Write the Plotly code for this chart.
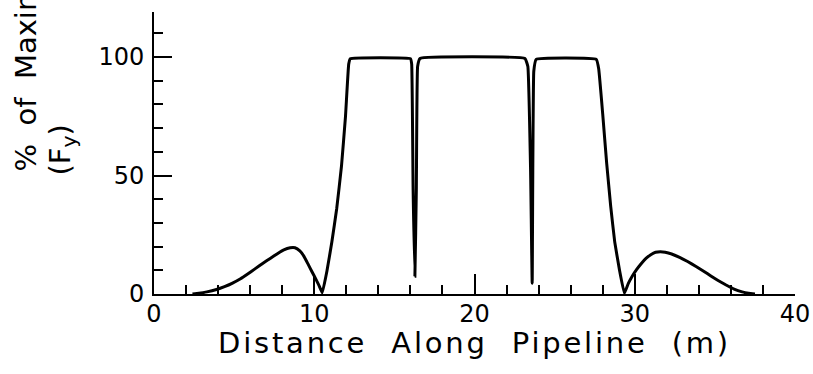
import plotly.graph_objects as go

# Stress profile along the pipeline, percent of maximum (F_y)
distance_m = [
    2.4, 2.8, 3.3, 3.9, 4.4, 4.9, 5.4, 5.8, 6.3, 6.8, 7.25, 7.7, 8.1, 8.5, 8.8, 9.1,
    9.35, 9.6, 9.85, 10.1, 10.3, 10.5,
    10.8, 11.1, 11.4, 11.7, 11.95, 12.15, 12.25,
    16.0, 16.08, 16.17, 16.28, 16.37, 16.45, 16.6,
    23.15, 23.33, 23.5, 23.6, 23.7, 23.85,
    27.6, 27.75, 28.0, 28.25, 28.5, 28.75, 29.05, 29.35,
    29.6, 29.85, 30.1, 30.4, 30.7, 31.0, 31.3, 31.6, 31.9, 32.3, 32.8, 33.3, 33.8,
    34.3, 34.75, 35.2, 35.7, 36.2, 36.7, 37.1, 37.5,
]
percent_fy = [
    0.0, 0.3, 0.9, 1.9, 3.1, 4.6, 6.4, 8.2, 10.6, 13.0, 15.0, 17.0, 18.6, 19.5, 19.5, 18.2,
    16.0, 12.8, 9.5, 6.3, 3.5, 0.5,
    10.0, 22.0, 36.0, 54.0, 75.0, 97.0, 99.3,
    99.3, 97.0, 44.0, 7.5, 44.0, 96.0, 99.4,
    99.4, 96.0, 52.0, 4.5, 94.0, 99.0,
    99.0, 95.0, 76.0, 55.0, 37.0, 22.0, 10.0, 0.3,
    4.5, 7.6, 10.2, 12.8, 15.0, 16.6, 17.6, 17.8, 17.6, 16.9, 15.5, 13.7, 11.7,
    9.6, 7.6, 5.7, 3.8, 2.1, 0.9, 0.3, 0.0,
]

x_ticks = [0, 10, 20, 30, 40]
y_ticks = [0, 50, 100]

FONT = "DejaVu Sans"

fig = go.Figure(
    go.Scatter(
        x=distance_m, y=percent_fy, mode="lines",
        line=dict(color="black", width=3, shape="spline", smoothing=0.3),
        hoverinfo="skip", showlegend=False,
    )
)

fig.update_layout(
    width=813, height=374,
    margin=dict(l=154, r=18, t=12, b=80),
    paper_bgcolor="white", plot_bgcolor="white",
    font=dict(family=FONT, color="black", size=24),
)

fig.update_xaxes(
    range=[0, 40], tickvals=x_ticks, ticktext=[str(v) for v in x_ticks],
    showline=True, linecolor="black", linewidth=2, mirror=False,
    ticks="inside", ticklen=20, tickwidth=2, tickcolor="black",
    minor=dict(dtick=2, tick0=0, ticks="inside", ticklen=9, tickwidth=2, tickcolor="black"),
    showgrid=False, zeroline=False, automargin=False,
    tickfont=dict(size=24), ticklabelstandoff=-3,
    title=dict(text="Distance  Along  Pipeline  (m)", font=dict(size=29), standoff=0),
)

fig.update_yaxes(
    range=[0, 119], tickvals=y_ticks, ticktext=[str(v) for v in y_ticks],
    showline=True, linecolor="black", linewidth=2, mirror=False,
    ticks="inside", ticklen=18, tickwidth=2, tickcolor="black",
    minor=dict(dtick=10, tick0=0, ticks="inside", ticklen=9, tickwidth=2, tickcolor="black"),
    showgrid=False, zeroline=False, automargin=False,
    tickfont=dict(size=24), ticklabelstandoff=3,
)

# Rotated axis label, two lines starting from the same baseline position
fig.add_annotation(
    text="%  of  Maximum  Stress", textangle=-90,
    xref="paper", yref="paper", x=(25 - 154) / 641, y=(294 - 174) / 282,
    xanchor="center", yanchor="bottom", showarrow=False,
    font=dict(size=29, family=FONT),
)
fig.add_annotation(
    text="(F<sub>y</sub>)", textangle=-90,
    xref="paper", yref="paper", x=(61 - 154) / 641, y=(294 - 178) / 282,
    xanchor="center", yanchor="bottom", showarrow=False,
    font=dict(size=29, family=FONT),
)

# Wider letter spacing for the x-axis caption
spacing_js = """
var gd = document.getElementById('{plot_id}');
gd.querySelectorAll('.g-xtitle text').forEach(function (t) {
    t.style.letterSpacing = '2.8px';
    t.setAttribute('dy', '-2');
});
"""

fig.write_html("out.html", post_script=spacing_js)
